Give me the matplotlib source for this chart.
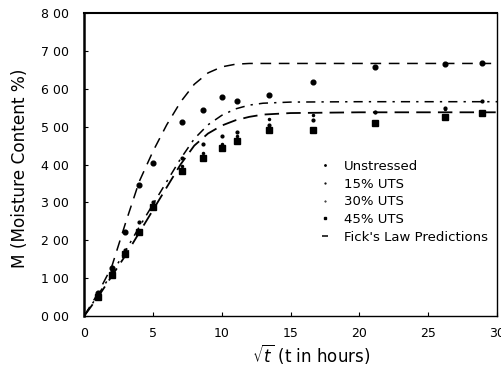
import matplotlib.pyplot as plt

plt.rcParams["font.family"] = ["DejaVu Sans"]

# measured points: sqrt(t) and moisture content
sqrt_t = [1.0, 2.0, 3.0, 4.0, 5.0, 7.1, 8.6, 10.0, 11.1, 13.4, 16.6, 21.1, 26.2, 28.9]
unstressed = [0.62, 1.27, 2.22, 3.45, 4.05, 5.13, 5.44, 5.79, 5.68, 5.84, 6.17, 6.58, 6.65, 6.69]
uts15 = [0.58, 1.20, 1.74, 2.48, 3.00, 4.18, 4.53, 4.75, 4.87, 5.05, 5.18, 5.39, 5.50, 5.67]
uts30 = [0.55, 1.10, 1.70, 2.18, 2.88, 3.95, 4.30, 4.55, 4.75, 5.20, 5.30, 5.39, 5.47, 5.40]
uts45 = [0.51, 1.08, 1.65, 2.21, 2.87, 3.84, 4.18, 4.44, 4.63, 4.91, 4.91, 5.11, 5.25, 5.37]

# Fick's law prediction curves
fick_x = [0, 1, 2, 3, 4, 5, 6, 7, 8, 9, 10, 11, 12, 13, 15, 20, 25, 30]
fick_top = [0, 0.6, 1.3, 2.45, 3.55, 4.35, 5.05, 5.65, 6.12, 6.42, 6.58, 6.65, 6.67, 6.67, 6.67, 6.67, 6.67, 6.67]
fick_mid = [0, 0.55, 1.12, 1.72, 2.35, 2.95, 3.55, 4.15, 4.68, 5.05, 5.3, 5.47, 5.57, 5.62, 5.65, 5.66, 5.66, 5.66]
fick_low = [0, 0.5, 1.05, 1.6, 2.2, 2.8, 3.4, 4.0, 4.5, 4.82, 5.03, 5.17, 5.26, 5.32, 5.36, 5.38, 5.38, 5.38]

yticks = [0, 1, 2, 3, 4, 5, 6, 7, 8]
ytick_labels = ["0 00", "1 00", "2 00", "3 00", "4 00", "5 00", "6 00", "7 00", "8 00"]
xticks = [0, 5, 10, 15, 20, 25, 30]

fig = plt.figure(figsize=(5.01, 3.74), dpi=100)
ax = fig.add_axes([0.168, 0.155, 0.824, 0.81])

ax.plot(fick_x, fick_top, color="k", lw=1.1, dashes=(7, 5), label="Fick's Law Predictions")
ax.plot(fick_x, fick_mid, color="k", lw=1.1, dashes=(6, 4, 1.5, 4))
ax.plot(fick_x, fick_low, color="k", lw=1.3, dashes=(8, 4))

ax.plot(sqrt_t, unstressed, "o", color="k", ms=3.4, label="Unstressed")
ax.plot(sqrt_t, uts15, "o", color="k", ms=2.0, label="15% UTS")
ax.plot(sqrt_t, uts30, ".", color="k", ms=3.0, label="30% UTS")
ax.plot(sqrt_t, uts45, "s", color="k", ms=4.8, label="45% UTS")

ax.set_xlim(0, 30)
ax.set_ylim(0, 8)
ax.set_xticks(xticks)
ax.set_yticks(yticks)
ax.set_yticklabels(ytick_labels)
ax.tick_params(direction="in", length=3, labelsize=9)
ax.tick_params(axis="y", pad=11)
ax.tick_params(axis="x", pad=8)

ax.spines["left"].set_linewidth(1.8)
ax.spines["top"].set_linewidth(1.5)
ax.spines["bottom"].set_linewidth(1.0)
ax.spines["right"].set_linewidth(1.0)

ax.set_xlabel(r"$\sqrt{t}$ (t in hours)", fontsize=12)
ax.xaxis.set_label_coords(0.55, -0.085)
ax.set_ylabel("M (Moisture Content %)", fontsize=12.2)
ax.yaxis.set_label_coords(-0.133, 0.488)

handles, labels = ax.get_legend_handles_labels()
order = [1, 2, 3, 4, 0]
leg = ax.legend([handles[i] for i in order], [labels[i] for i in order],
                loc="upper left", bbox_to_anchor=(0.547, 0.555), frameon=False,
                fontsize=9.5, handlelength=0.5, markerscale=0.3, labelspacing=0.36,
                handletextpad=1.2)

fig.savefig("out.png", dpi=100)
